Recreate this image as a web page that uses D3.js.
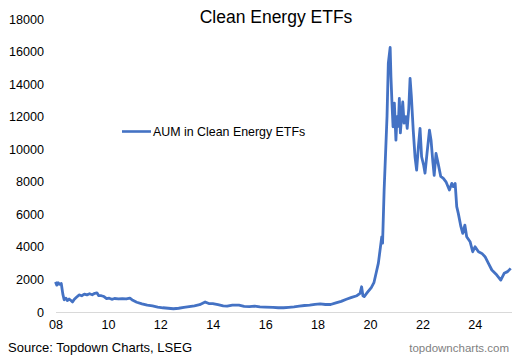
<!DOCTYPE html>
<html><head><meta charset="utf-8">
<script src="https://cdn.jsdelivr.net/npm/d3@7"></script>
<style>body{margin:0;background:#fff}svg{display:block}</style>
</head><body>
<svg id="c" width="531" height="358"></svg>
<script>
const title = "Clean Energy ETFs";
const seriesName = "AUM in Clean Energy ETFs";
const years = [2008.00,2008.05,2008.10,2008.15,2008.22,2008.28,2008.33,2008.40,2008.45,2008.52,2008.58,2008.65,2008.72,2008.80,2008.90,2009.00,2009.10,2009.20,2009.30,2009.40,2009.50,2009.58,2009.65,2009.75,2009.85,2009.95,2010.05,2010.15,2010.25,2010.40,2010.55,2010.70,2010.84,2010.95,2011.10,2011.30,2011.50,2011.70,2011.90,2012.10,2012.30,2012.50,2012.70,2012.90,2013.10,2013.30,2013.50,2013.71,2013.85,2014.00,2014.20,2014.40,2014.55,2014.75,2015.00,2015.20,2015.40,2015.60,2015.80,2016.00,2016.30,2016.50,2016.70,2016.90,2017.10,2017.30,2017.50,2017.70,2017.90,2018.10,2018.30,2018.50,2018.70,2018.90,2019.10,2019.30,2019.50,2019.62,2019.68,2019.73,2019.78,2019.90,2020.05,2020.15,2020.25,2020.32,2020.40,2020.45,2020.48,2020.54,2020.60,2020.65,2020.70,2020.77,2020.80,2020.84,2020.88,2020.93,2020.99,2021.03,2021.08,2021.12,2021.16,2021.20,2021.25,2021.30,2021.37,2021.42,2021.48,2021.53,2021.58,2021.65,2021.72,2021.78,2021.85,2021.91,2021.97,2022.05,2022.10,2022.18,2022.27,2022.33,2022.40,2022.45,2022.52,2022.60,2022.70,2022.80,2022.90,2023.03,2023.12,2023.18,2023.25,2023.31,2023.37,2023.47,2023.54,2023.62,2023.69,2023.82,2023.92,2024.01,2024.14,2024.27,2024.39,2024.52,2024.65,2024.84,2024.99,2025.12,2025.25,2025.37];
const aum = [1850,1650,1800,1700,1750,1100,750,850,700,800,720,620,780,900,1050,1000,1100,1050,1120,1060,1150,1180,1000,1000,950,820,850,780,830,800,820,800,850,720,600,500,420,370,300,260,230,200,230,280,330,380,450,620,520,520,450,380,360,420,420,350,330,360,310,300,280,260,260,290,320,360,400,420,470,500,460,460,560,650,780,900,1000,1150,1550,1000,950,1200,1500,1800,2500,3000,4000,4620,4230,7490,9950,12000,15290,16250,14450,12800,11380,12830,10560,12000,11400,13120,11000,11890,12900,11600,12000,11280,12500,14350,13220,11170,9500,8720,10200,11280,9540,9000,8530,9800,11170,10560,9200,8400,9740,9130,8330,8210,8000,7490,7900,7700,7900,6470,6060,5240,4830,5340,4620,4320,3700,4010,3700,3600,3400,2990,2580,2270,1960,2380,2480,2680];
const xTicks = [2008,2010,2012,2014,2016,2018,2020,2022,2024];
const yTicks = [0,2000,4000,6000,8000,10000,12000,14000,16000,18000];
const sourceText = "Source: Topdown Charts, LSEG";
const brandText = "topdowncharts.com";

const data = years.map((y,i)=>({x:y, v:aum[i]}));
const svg = d3.select("#c");
const font = "'Liberation Sans', Arial, sans-serif";
const x = d3.scaleLinear().domain([2008, 2025.4]).range([55.5, 511.5]);
const y = d3.scaleLinear().domain([0, 18000]).range([312, 19]);

svg.append("text").attr("x", 276).attr("y", 23).attr("text-anchor","middle")
  .attr("font-family", font).attr("font-size", 17.5).attr("fill","#000").text(title);

const xa = svg.append("g").attr("transform","translate(0,312)")
  .call(d3.axisBottom(x).tickValues(xTicks).tickSize(0).tickPadding(8)
    .tickFormat(d=>String(d%100).padStart(2,"0")));
xa.select(".domain").attr("stroke","#d9d9d9").attr("stroke-width",1.2);
xa.selectAll("text").attr("font-family",font).attr("font-size",12.6).attr("fill","#000");

const ya = svg.append("g").attr("transform","translate(44,0)")
  .call(d3.axisLeft(y).tickValues(yTicks).tickSize(0).tickPadding(0).tickFormat(d3.format("d")));
ya.select(".domain").remove();
ya.selectAll("text").attr("font-family",font).attr("font-size",12.6).attr("fill","#000");

const line = d3.line().x(d=>x(d.x)).y(d=>y(d.v)).curve(d3.curveLinear);
svg.append("path").datum(data).attr("d", line).attr("fill","none")
  .attr("stroke","#4472C4").attr("stroke-width",2.8).attr("stroke-linejoin","round");

svg.append("line").attr("x1",122).attr("x2",151).attr("y1",131.5).attr("y2",131.5)
  .attr("stroke","#4472C4").attr("stroke-width",2.6);
svg.append("text").attr("x",153).attr("y",136).attr("font-family",font)
  .attr("font-size",12.4).attr("fill","#000").text(seriesName);

svg.append("text").attr("x",8).attr("y",352).attr("font-family",font)
  .attr("font-size",13).attr("fill","#000").text(sourceText);
svg.append("text").attr("x",509).attr("y",352).attr("text-anchor","end").attr("font-family",font)
  .attr("font-size",11.5).attr("fill","#7f7f7f").text(brandText);
</script>
</body></html>
